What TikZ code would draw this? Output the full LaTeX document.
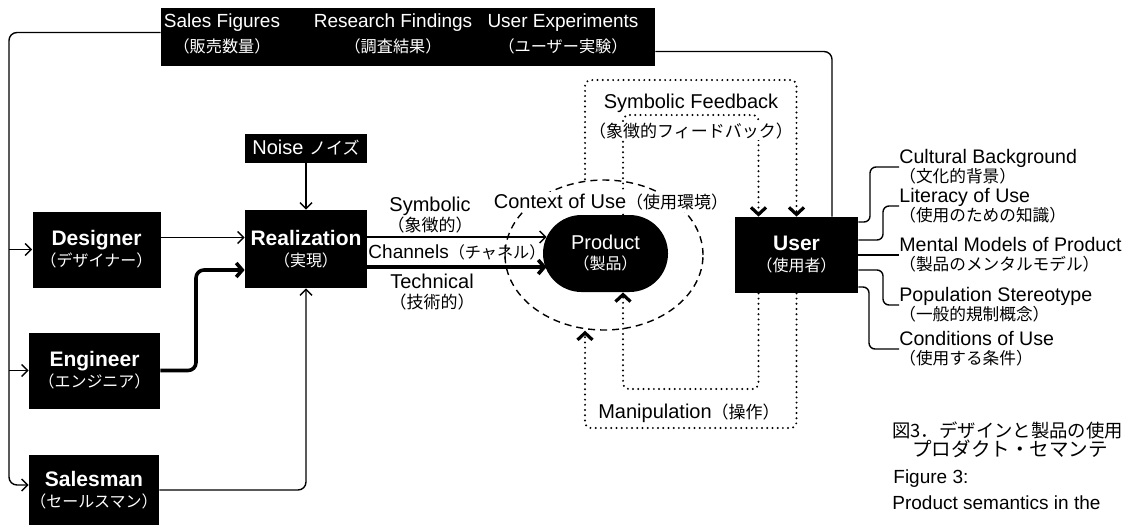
\documentclass[tikz,border=0pt]{standalone}
\usepackage{fontspec}
\setmainfont{Liberation Sans}
\newfontfamily\jp[Scale=0.85]{Noto Sans CJK JP}
\newcommand\jpbox{\jp\fontsize{9.4}{10}\selectfont}
\usetikzlibrary{arrows.meta, shapes.geometric}

\begin{document}
\begin{tikzpicture}[x=0.5pt, y=-0.5pt, font=\fontsize{10}{10}\selectfont,
  blk/.style={fill=black, text=white, align=center, inner sep=0pt},
  actor/.style={blk, minimum width=64pt, minimum height=38pt, font=\fontsize{10.5}{10.5}\selectfont},
  bantxt/.style={text=white, align=center, inner sep=0pt, font=\fontsize{9.5}{12.5}\selectfont},
  txt/.style={align=center, inner sep=1pt},
  lab/.style={align=left, anchor=west, inner sep=0pt, font=\fontsize{9.8}{9.6}\selectfont},
  ln/.style={line width=0.7pt},
  arr/.style={ln, -{Straight Barb[length=3pt,width=6pt]}},
  fat/.style={line width=1.8pt, -{Straight Barb[length=3pt,width=7pt]}},
  fb/.style={line width=1.1pt, dash pattern=on 0pt off 2.6pt, line cap=round, rounded corners=3pt},
  fbarr/.style={fb, -{Straight Barb[length=3.5pt,width=7.5pt,line width=1.6pt]}}]
  \useasboundingbox (0,0) rectangle (1127,525);

  % market information
  \node[blk, minimum width=247pt, minimum height=29pt] (banner) at (408,36.5) {};
  \node[bantxt] (bsales) at (222,34) {Sales Figures\\{\jp （販売数量）}};
  \node[bantxt] (bres) at (393,34) {Research Findings\\{\jp （調査結果）}};
  \node[bantxt] (buser) at (563,34) {User Experiments\\{\jp （ユーザー実験）}};

  % people and realization
  \node[actor] (desg) at (96.5,249.5) {\textbf{Designer}\\{\jpbox （デザイナー）}};
  \node[actor, minimum width=65.5pt] (engr) at (94.5,370.5) {\textbf{Engineer}\\{\jpbox （エンジニア）}};
  \node[actor, minimum width=65pt, minimum height=35pt] (sales) at (94,490) {\textbf{Salesman}\\{\jpbox （セールスマン）}};
  \node[actor, minimum width=61pt, minimum height=39pt] (real) at (306,249) {\textbf{Realization}\\{\jpbox （実現）}};
  \node[blk, minimum width=61pt, minimum height=14.5pt] (noise) at (306,148) {Noise {\jp ノイズ}};

  % product in its context
  \node[draw, ellipse, dashed, dash pattern=on 3.5pt off 2.5pt, ln, minimum width=99pt, minimum height=75pt, inner sep=0pt] (ctx) at (604,255) {};
  \node[blk, rounded corners=19.25pt, minimum width=62.5pt, minimum height=38.5pt] (prod) at (605.5,253.5) {Product\\{\jpbox （製品）}};
  \node[actor, minimum width=61.5pt] (user) at (796.5,255) {\textbf{User}\\{\jpbox （使用者）}};

  \node[txt] (symb) at (430,215) {Symbolic\\{\jp （象徴的）}};
  \node[txt, font=\fontsize{9.5}{10}\selectfont] (chan) at (457,252) {Channels{\jp （チャネル）}};
  \node[txt] (tech) at (432,292.5) {Technical\\{\jp （技術的）}};
  \node[txt] (sflab) at (691,103) {Symbolic Feedback};
  \node[txt] (manip) at (689,413) {Manipulation{\jp （操作）}};

  % user attributes
  \node[lab] (cult) at (899,167) {Cultural Background\\{\jp （文化的背景）}};
  \node[lab] (lit) at (899,206) {Literacy of Use\\{\jp （使用のための知識）}};
  \node[lab] (ment) at (899,255) {Mental Models of Product\\{\jp （製品のメンタルモデル）}};
  \node[lab] (pop) at (899,305) {Population Stereotype\\{\jp （一般的規制概念）}};
  \node[lab] (cond) at (899,349) {Conditions of Use\\{\jp （使用する条件）}};

  % caption
  \node[lab] (capjp1) at (892,430) {{\jp\fontsize{10.8}{11}\selectfont 図3．デザインと製品の使用}};
  \node[lab] (capjp2) at (912,449) {{\jp\fontsize{11.5}{12}\selectfont プロダクト・セマンテ}};
  \node[lab, font=\fontsize{9.5}{10}\selectfont] (capen1) at (893,479) {Figure 3:};
  \node[lab, font=\fontsize{9.5}{10}\selectfont] (capen2) at (892,503) {Product semantics in the};

  % feedback to the makers
  \coordinate (lc) at (9,485);
  \draw[arr, rounded corners=4pt] ([yshift=2pt]banner.west) -| (lc) -- (lc -| sales.west);
  \draw[arr] (lc |- desg.west) -- (desg.west);
  \draw[arr] (lc |- engr.west) -- (engr.west);
  \draw[ln, rounded corners=4pt] ([yshift=-7.5pt]banner.east) -| ([xshift=17.75pt]user.north);

  % into realization
  \draw[arr] (noise) -- (real);
  \draw[arr] ([yshift=6pt]desg.east) -- ([yshift=6pt]desg.east -| real.west);
  \coordinate (eb) at (196,270);
  \draw[fat, rounded corners=4pt] (engr.east) -| (eb) -- (eb -| real.west);
  \draw[arr, rounded corners=4pt] (sales.east) -| (real.south);

  % channels
  \coordinate (pin) at ([xshift=2pt]prod.west);
  \draw[arr] ([yshift=6pt]real.east) -- ([yshift=6pt]real.east -| pin);
  \draw[fat] ([yshift=-9pt]real.east) -- ([yshift=-9pt]real.east -| pin);

  % symbolic feedback and manipulation
  \coordinate (sfo) at (585,80);
  \coordinate (sfi) at (623,115);
  \coordinate (mo) at (585,428);
  \coordinate (mi) at (623,389);
  \draw[fbarr] (ctx.north -| sfo) -- (sfo) -| (user.north);
  \draw[fbarr] (prod.north -| sfi) -- (sfi) -| ([xshift=-19pt]user.north);
  \draw[fbarr] (user.south) |- (mo) -- (ctx.south -| mo);
  \draw[fbarr] ([xshift=-19pt]user.south) |- (mi) -- (prod.south -| mi);
  \node[txt, fill=white, inner sep=0.5pt] (sfjp) at (691,131) {\jp （象徴的フィードバック）};
  \node[txt, fill=white] (ctxlab) at (611,202) {Context of Use{\jp （使用環境）}};

  % attribute links
  \draw[ln, rounded corners=3pt] ([yshift=16.5pt]user.east) -| ([xshift=-14.5pt]cult.west) -- (cult.west);
  \draw[ln, rounded corners=3pt] ([yshift=7.5pt]user.east) -| ([xshift=-8pt]lit.west) -- (lit.west);
  \draw[ln] (user.east) -- (ment.west);
  \draw[ln, rounded corners=3pt] ([yshift=-7.5pt]user.east) -| ([xshift=-8pt]pop.west) -- (pop.west);
  \draw[ln, rounded corners=3pt] ([yshift=-16pt]user.east) -| ([xshift=-15pt]cond.west) -- (cond.west);
\end{tikzpicture}
\end{document}
